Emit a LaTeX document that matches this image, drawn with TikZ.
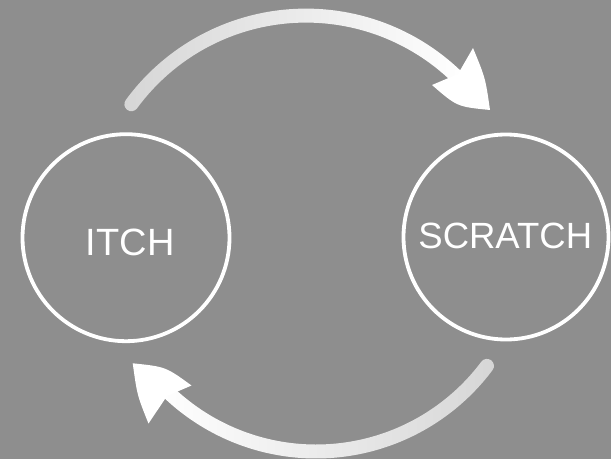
\documentclass[tikz,border=0pt]{standalone}
\usepackage{fontspec}
\setmainfont{Liberation Sans}
\usetikzlibrary{calc}
\definecolor{bgc}{RGB}{142,142,142}
\definecolor{tailc}{RGB}{214,214,214}
\tikzset{
  ring/.style={circle, draw=white, line width=3.8pt, inner sep=0pt},
  lbl/.style={text=white, inner sep=0pt, anchor=center},
  headfill/.style={fill=white}
}
\begin{document}
\begin{tikzpicture}[x=1pt,y=1pt]
\fill[bgc] (0,0) rectangle (611,459);
\useasboundingbox (0,0) rectangle (611,459);

% circles
\node[ring, minimum size=207pt] (itch) at (126,221.3) {};
\node[ring, minimum size=205pt] (scratch) at (506,222) {};
\node[lbl, font=\fontsize{38}{44}\selectfont] (itchtext) at (130.3,217) {ITCH};
\node[lbl, font=\fontsize{36.5}{42}\selectfont] (scratchtext) at (505.3,223.5) {SCRATCH};

% top arrow: ITCH -> SCRATCH
\coordinate (c1) at (306,227);
\shade[left color=tailc, right color=white]
  ($(c1)+(143.8:223.4pt)$) arc[start angle=143.8, end angle=44, radius=223.4pt]
  -- ($(c1)+(44:209.4pt)$) arc[start angle=44, end angle=143.8, radius=209.4pt]
  arc[start angle=323.8, end angle=143.8, radius=7pt] -- cycle;
\coordinate (t1) at (490,349);
\coordinate (a1) at (473,411);
\coordinate (n1) at (458,385);
\coordinate (b1) at (432,374);
\fill[headfill] (t1) .. controls (485.4,381) .. (a1) -- (n1) -- (b1)
  .. controls (457,352.3) .. (t1) -- cycle;

% bottom arrow: SCRATCH -> ITCH
\coordinate (c2) at (316,221);
\shade[left color=white, right color=tailc]
  ($(c2)+(-36.8:220.5pt)$) arc[start angle=-36.8, end angle=-137, radius=220.5pt]
  -- ($(c2)+(-137:206.5pt)$) arc[start angle=-137, end angle=-36.8, radius=206.5pt]
  arc[start angle=143.2, end angle=-36.8, radius=7pt] -- cycle;
\coordinate (t2) at (132.7,95.7);
\coordinate (a2) at (148.5,35.5);
\coordinate (n2) at (167,63);
\coordinate (b2) at (191.5,73.5);
\fill[headfill] (t2) .. controls (137.2,63.6) .. (a2) -- (n2) -- (b2)
  .. controls (165.6,92.3) .. (t2) -- cycle;
\end{tikzpicture}
\end{document}
